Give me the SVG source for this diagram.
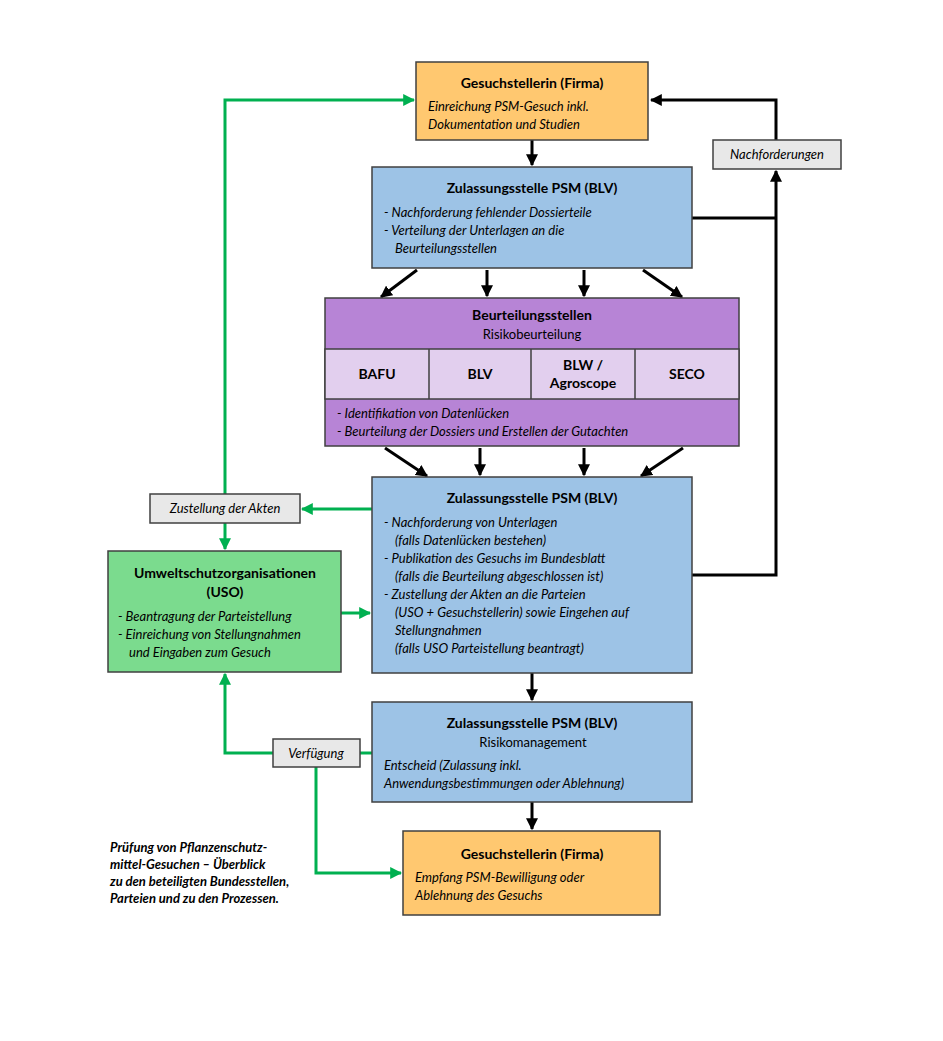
<svg xmlns="http://www.w3.org/2000/svg" width="943" height="1041" viewBox="0 0 943 1041">
<defs>
<marker id="ab" viewBox="0 0 10 10" refX="9" refY="5" markerWidth="4" markerHeight="4" orient="auto"><path d="M0,0L10,5L0,10z" fill="#000"/></marker>
<marker id="ag" viewBox="0 0 10 10" refX="9" refY="5" markerWidth="4" markerHeight="4" orient="auto"><path d="M0,0L10,5L0,10z" fill="#00B050"/></marker>
<style>
text{font-family:Lato,"Liberation Sans",sans-serif;font-size:13px;fill:#000}
.t{font-weight:bold;font-size:14px;text-anchor:middle}
.i{font-style:italic}
.c{text-anchor:middle}
.box{stroke:#404040;stroke-width:1.5}
.or{fill:#FFC870}.bl{fill:#9DC3E6}.pu{fill:#B784D6}.lp{fill:#E2CFEE}.gr{fill:#7BDB8E}.gy{fill:#E8E8E8}
.k{stroke:#000;stroke-width:3;fill:none}
.g{stroke:#00B050;stroke-width:3;fill:none}
</style>
</defs>
<g id="connectors">
<path class="k" d="M532,140V165" marker-end="url(#ab)"/>
<path class="k" d="M692,218H776"/>
<path class="k" d="M692,575H776V171" marker-end="url(#ab)"/>
<path class="k" d="M776,140V100H651" marker-end="url(#ab)"/>
<path class="k" d="M417,270L381,297" marker-end="url(#ab)"/>
<path class="k" d="M487,270V296" marker-end="url(#ab)"/>
<path class="k" d="M584,270V296" marker-end="url(#ab)"/>
<path class="k" d="M643,270L682,297" marker-end="url(#ab)"/>
<path class="k" d="M385,448L427,476" marker-end="url(#ab)"/>
<path class="k" d="M480,448V475" marker-end="url(#ab)"/>
<path class="k" d="M584,448V475" marker-end="url(#ab)"/>
<path class="k" d="M683,448L641,476" marker-end="url(#ab)"/>
<path class="k" d="M532,673V700" marker-end="url(#ab)"/>
<path class="k" d="M532,802V829" marker-end="url(#ab)"/>
<path class="g" d="M225,494V100H414" marker-end="url(#ag)"/>
<path class="g" d="M372,509H302" marker-end="url(#ag)"/>
<path class="g" d="M225,523V549" marker-end="url(#ag)"/>
<path class="g" d="M341,613H370" marker-end="url(#ag)"/>
<path class="g" d="M372,753H360"/>
<path class="g" d="M273,753H225V674" marker-end="url(#ag)"/>
<path class="g" d="M316,767V873H401" marker-end="url(#ag)"/>
</g>
<g id="firma1"><rect class="box or" x="416" y="62" width="232" height="78"/>
<text class="t" x="532" y="88">Gesuchstellerin (Firma)</text>
<text class="i" x="428" y="111">Einreichung PSM-Gesuch inkl.</text>
<text class="i" x="428" y="129">Dokumentation und Studien</text></g>
<g id="nachforderungen"><rect class="box gy" x="713" y="140" width="128" height="29"/>
<text class="i c" x="777" y="159">Nachforderungen</text></g>
<g id="blv1"><rect class="box bl" x="372" y="167" width="320" height="101"/>
<text class="t" x="532" y="193">Zulassungsstelle PSM (BLV)</text>
<text class="i" x="384" y="217">-  Nachforderung fehlender Dossierteile</text>
<text class="i" x="384" y="235">-  Verteilung der Unterlagen an die</text>
<text class="i" x="395" y="253">Beurteilungsstellen</text></g>
<g id="beurteilung"><rect class="box pu" x="325" y="298" width="414" height="148"/>
<rect class="box lp" x="325" y="349" width="414" height="50"/>
<path stroke="#404040" stroke-width="1.5" d="M429,349V399M531,349V399M635,349V399"/>
<text class="t" x="532" y="320">Beurteilungsstellen</text>
<text class="c" x="532" y="339">Risikobeurteilung</text>
<text class="t" x="377" y="379" font-size="13">BAFU</text>
<text class="t" x="480" y="379" font-size="13">BLV</text>
<text class="t" x="583" y="370" font-size="13">BLW /</text>
<text class="t" x="583" y="388" font-size="13">Agroscope</text>
<text class="t" x="687" y="379" font-size="13">SECO</text>
<text class="i" x="337" y="418">-  Identifikation von Datenlücken</text>
<text class="i" x="337" y="436">-  Beurteilung der Dossiers und Erstellen der Gutachten</text></g>
<g id="blv2"><rect class="box bl" x="372" y="477" width="320" height="196"/>
<text class="t" x="532" y="503">Zulassungsstelle PSM (BLV)</text>
<text class="i" x="384" y="527">-  Nachforderung von Unterlagen</text>
<text class="i" x="395" y="545">(falls Datenlücken bestehen)</text>
<text class="i" x="384" y="563">-  Publikation des Gesuchs im Bundesblatt</text>
<text class="i" x="395" y="581">(falls die Beurteilung abgeschlossen ist)</text>
<text class="i" x="384" y="599">-  Zustellung der Akten an die Parteien</text>
<text class="i" x="395" y="617">(USO + Gesuchstellerin) sowie Eingehen auf</text>
<text class="i" x="395" y="635">Stellungnahmen</text>
<text class="i" x="395" y="653">(falls USO Parteistellung beantragt)</text></g>
<g id="zustellung"><rect class="box gy" x="150" y="494" width="150" height="29"/>
<text class="i c" x="225" y="513">Zustellung der Akten</text></g>
<g id="uso"><rect class="box gr" x="108" y="551" width="233" height="121"/>
<text class="t" x="225" y="578">Umweltschutzorganisationen</text>
<text class="t" x="225" y="597">(USO)</text>
<text class="i" x="118" y="621">-  Beantragung der Parteistellung</text>
<text class="i" x="118" y="639">-  Einreichung von Stellungnahmen</text>
<text class="i" x="129" y="657">und Eingaben zum Gesuch</text></g>
<g id="blv3"><rect class="box bl" x="372" y="702" width="320" height="100"/>
<text class="t" x="532" y="728">Zulassungsstelle PSM (BLV)</text>
<text class="c" x="533" y="747">Risikomanagement</text>
<text class="i" x="384" y="770">Entscheid (Zulassung inkl.</text>
<text class="i" x="384" y="788">Anwendungsbestimmungen oder Ablehnung)</text></g>
<g id="verfuegung"><rect class="box gy" x="273" y="739" width="87" height="28"/>
<text class="i c" x="316" y="758">Verfügung</text></g>
<g id="firma2"><rect class="box or" x="403" y="831" width="257" height="84"/>
<text class="t" x="532" y="859">Gesuchstellerin (Firma)</text>
<text class="i" x="415" y="882">Empfang PSM-Bewilligung oder</text>
<text class="i" x="415" y="900">Ablehnung des Gesuchs</text></g>
<g id="caption" font-weight="bold">
<text class="i" x="110" y="852" font-weight="bold">Prüfung von Pflanzenschutz-</text>
<text class="i" x="110" y="869" font-weight="bold">mittel-Gesuchen – Überblick</text>
<text class="i" x="110" y="886" font-weight="bold">zu den beteiligten Bundesstellen,</text>
<text class="i" x="110" y="903" font-weight="bold">Parteien und zu den Prozessen.</text></g>
</svg>
